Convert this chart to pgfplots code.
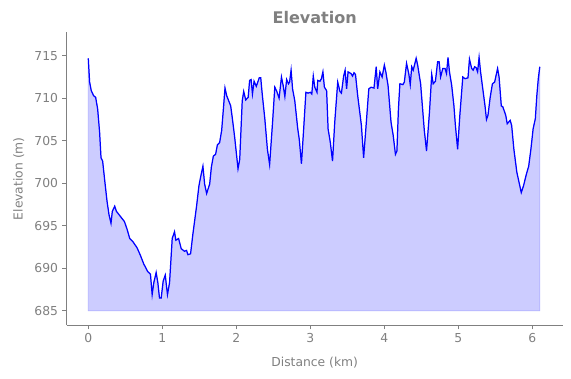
\documentclass[border=0pt]{standalone}
\usepackage{fontspec}
\setmainfont{DejaVu Sans}
\usepackage{pgfplots}
\pgfplotsset{compat=1.18}
\usepackage{pgfplotstable}
\pgfplotstableread{
d e
0.0 714.7
0.018 711.9
0.04 710.9
0.072 710.3
0.10 710.1
0.127 708.7
0.153 706.0
0.172 703.0
0.194 702.6
0.22 700.5
0.253 697.9
0.28 696.3
0.307 695.3
0.325 696.7
0.357 697.3
0.38 696.7
0.434 696.1
0.488 695.5
0.524 694.6
0.56 693.5
0.605 693.1
0.66 692.4
0.705 691.5
0.75 690.5
0.804 689.6
0.84 689.3
0.863 686.9
0.885 688.3
0.917 689.5
0.94 688.3
0.962 686.5
0.985 686.5
1.012 688.5
1.04 689.2
1.07 686.9
1.098 688.3
1.134 693.5
1.165 694.3
1.183 693.3
1.22 693.5
1.256 692.3
1.30 692.0
1.328 692.1
1.346 691.6
1.382 691.7
1.413 694.0
1.463 697.3
1.495 699.7
1.517 700.7
1.549 702.0
1.572 699.9
1.599 698.8
1.64 699.9
1.663 701.9
1.69 703.2
1.72 703.4
1.744 704.5
1.775 704.8
1.802 706.2
1.825 708.7
1.847 711.2
1.87 710.3
1.924 709.1
1.947 707.6
1.978 705.4
2.023 701.7
2.046 702.8
2.08 709.7
2.10 710.8
2.127 709.8
2.16 710.1
2.18 712.1
2.20 712.2
2.218 710.5
2.24 712.0
2.27 711.4
2.31 712.4
2.33 712.4
2.35 710.5
2.385 707.6
2.42 704.0
2.45 702.2
2.49 707.2
2.52 711.3
2.547 710.8
2.578 710.0
2.61 712.5
2.633 711.5
2.656 710.2
2.68 712.2
2.705 711.7
2.72 711.9
2.74 713.3
2.76 711.1
2.79 709.7
2.83 706.4
2.85 705.2
2.88 702.3
2.91 706.4
2.94 710.7
2.97 710.6
3.0 710.7
3.02 710.5
3.04 712.6
3.06 711.3
3.09 710.7
3.10 712.1
3.13 712.0
3.15 712.3
3.17 713.1
3.19 711.3
3.22 710.9
3.24 706.4
3.27 704.8
3.30 702.6
3.33 707.2
3.37 711.9
3.40 710.8
3.42 710.6
3.45 712.6
3.47 713.3
3.49 711.1
3.51 713.1
3.55 712.9
3.57 712.6
3.59 713.0
3.61 712.8
3.64 710.3
3.69 706.8
3.72 703.0
3.75 706.4
3.79 711.1
3.82 711.3
3.86 711.2
3.89 713.7
3.91 711.1
3.94 713.1
3.97 712.5
4.0 713.9
4.02 713.1
4.05 711.5
4.09 707.2
4.12 705.6
4.15 703.4
4.17 703.8
4.19 708.7
4.21 711.7
4.25 711.6
4.27 711.9
4.30 714.1
4.33 712.9
4.35 711.6
4.37 713.7
4.39 713.3
4.43 714.7
4.45 713.9
4.49 711.7
4.52 708.4
4.54 706.2
4.57 703.8
4.61 708.4
4.64 712.8
4.66 711.7
4.69 712.0
4.72 714.3
4.74 714.3
4.76 712.5
4.79 713.5
4.82 713.5
4.84 712.9
4.86 714.8
4.88 713.1
4.91 711.5
4.94 709.1
4.96 706.8
4.99 704.0
5.02 708.0
5.06 712.5
5.09 712.3
5.13 712.4
5.15 714.6
5.18 713.5
5.20 713.3
5.22 713.7
5.24 713.6
5.26 713.1
5.28 714.8
5.30 713.1
5.33 711.1
5.36 709.1
5.38 707.5
5.40 708.0
5.43 710.1
5.46 711.7
5.49 711.9
5.53 713.5
5.55 712.5
5.58 709.1
5.60 709.0
5.64 708.0
5.66 707.0
5.70 707.4
5.72 706.8
5.75 704.0
5.79 701.3
5.82 700.1
5.85 698.9
5.88 699.7
5.92 701.1
5.95 702.0
5.98 704.0
6.01 706.4
6.04 707.6
6.06 710.3
6.08 712.3
6.10 713.7
}\elev
\begin{document}
\begin{tikzpicture}
\useasboundingbox (-54pt,-42.9pt) rectangle (408.5pt,263.3pt);
\begin{axis}[
  at={(0,0)}, anchor=south west,
  scale only axis, width=401.8pt, height=237.1pt,
  xmin=-0.292, xmax=6.41, ymin=683.32, ymax=717.75,
  axis x line*=bottom, axis y line*=left,
  axis line style={gray, line width=0.8pt, -},
  xtick={0,1,2,3,4,5,6}, ytick={685,690,695,700,705,710,715},
  tick align=outside, major tick length=3.5pt,
  tick style={gray, line width=0.8pt},
  every tick label/.append style={font=\fontsize{10}{12}\selectfont, text=gray},
  /pgf/number format/assume math mode=true,
  /pgf/number format/1000 sep={},
  xlabel={Distance (km)}, ylabel={Elevation (m)},
  label style={font=\fontsize{10}{12}\selectfont, text=gray},
  xlabel style={at={(axis description cs:0.5,-0.140)}, anchor=base},
  ylabel style={at={(axis description cs:-0.0886,0.5)}, anchor=base},
  title={Elevation},
  title style={font=\bfseries\fontsize{13}{15}\selectfont, text=gray, at={(axis description cs:0.5,1)}, anchor=base, yshift=1pt},
  clip=false,
]
\addplot[fill=blue!20, draw=blue!30, line width=0.6pt] table[x=d, y=e] {\elev} -- (axis cs:6.10,685) -- (axis cs:0,685) -- cycle;
\addplot[blue, line width=1pt] table[x=d, y=e] {\elev};
\end{axis}
\end{tikzpicture}
\end{document}
